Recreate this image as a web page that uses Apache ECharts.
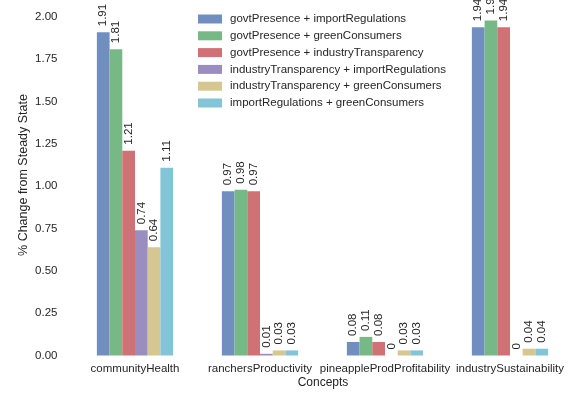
<!DOCTYPE html>
<html>
<head>
<meta charset="utf-8">
<script src="https://cdn.jsdelivr.net/npm/echarts@6/dist/echarts.min.js"></script>
<style>
  html, body { margin: 0; padding: 0; background: #fff; }
  #chart { width: 573px; height: 394px; }
</style>
</head>
<body>
<div id="chart"></div>
<script>
// Concepts along the x axis
const concepts = ['communityHealth', 'ranchersProductivity', 'pineappleProdProfitability', 'industrySustainability'];

// Scenario series: % change from steady state for each concept
const govtImport      = [1.91, 0.97, 0.08, 1.94];
const govtGreen       = [1.81, 0.98, 0.11, 1.98];
const govtTransp      = [1.21, 0.97, 0.08, 1.94];
const transpImport    = [0.74, 0.01, 0, 0];
const transpGreen     = [0.64, 0.03, 0.03, 0.04];
const importGreen     = [1.11, 0.03, 0.03, 0.04];

const seriesNames = [
  'govtPresence + importRegulations',
  'govtPresence + greenConsumers',
  'govtPresence + industryTransparency',
  'industryTransparency + importRegulations',
  'industryTransparency + greenConsumers',
  'importRegulations + greenConsumers'
];
const seriesData = [govtImport, govtGreen, govtTransp, transpImport, transpGreen, importGreen];

// y axis ticks
const yTicks = [0, 0.25, 0.5, 0.75, 1.0, 1.25, 1.5, 1.75, 2.0];

const colors = ['#708ec0', '#77b986', '#d07175', '#9a8ec1', '#d6c790', '#83c4d7'];
const textColor = '#262626';
const fontFamily = 'Liberation Sans, Arial, sans-serif';

const chart = echarts.init(document.getElementById('chart'), null, { renderer: 'canvas' });

chart.setOption({
  backgroundColor: '#ffffff',
  animation: false,
  color: colors,
  textStyle: { fontFamily: fontFamily },
  grid: { left: 72.5, right: 0.5, top: 17, bottom: 38.5, containLabel: false },
  legend: {
    data: seriesNames,
    orient: 'vertical',
    left: 193,
    top: 8,
    icon: 'rect',
    itemWidth: 24,
    itemHeight: 9,
    itemGap: 4.8,
    textStyle: { fontSize: 11.5, color: textColor, fontFamily: fontFamily, padding: [0, 0, 0, 3] }
  },
  xAxis: {
    type: 'category',
    data: concepts,
    axisLine: { show: false },
    axisTick: { show: false },
    axisLabel: { fontSize: 11.5, color: textColor, margin: 7, interval: 0 }
  },
  yAxis: {
    type: 'value',
    min: yTicks[0],
    max: yTicks[yTicks.length - 1],
    interval: 0.25,
    axisLine: { show: false },
    axisTick: { show: false },
    splitLine: { show: false },
    axisLabel: {
      fontSize: 11.5,
      color: textColor,
      margin: 15,
      formatter: v => v.toFixed(2)
    }
  },
  graphic: [
    {
      type: 'text',
      x: 24,
      y: 175,
      rotation: Math.PI / 2,
      style: {
        text: '% Change from Steady State',
        fontSize: 12.5,
        fill: textColor,
        fontFamily: fontFamily,
        align: 'center',
        verticalAlign: 'middle'
      }
    },
    {
      type: 'text',
      x: 323,
      y: 383,
      style: {
        text: 'Concepts',
        fontSize: 12,
        fill: textColor,
        fontFamily: fontFamily,
        align: 'center',
        verticalAlign: 'middle'
      }
    }
  ],
  series: seriesNames.map((name, i) => ({
    name: name,
    type: 'bar',
    data: seriesData[i],
    barGap: 0,
    barCategoryGap: '39%',
    itemStyle: { color: colors[i] },
    label: {
      show: true,
      position: 'top',
      rotate: 90,
      align: 'left',
      verticalAlign: 'middle',
      distance: 6,
      fontSize: 11.5,
      color: textColor,
      formatter: p => String(p.value)
    }
  }))
});
</script>
</body>
</html>
